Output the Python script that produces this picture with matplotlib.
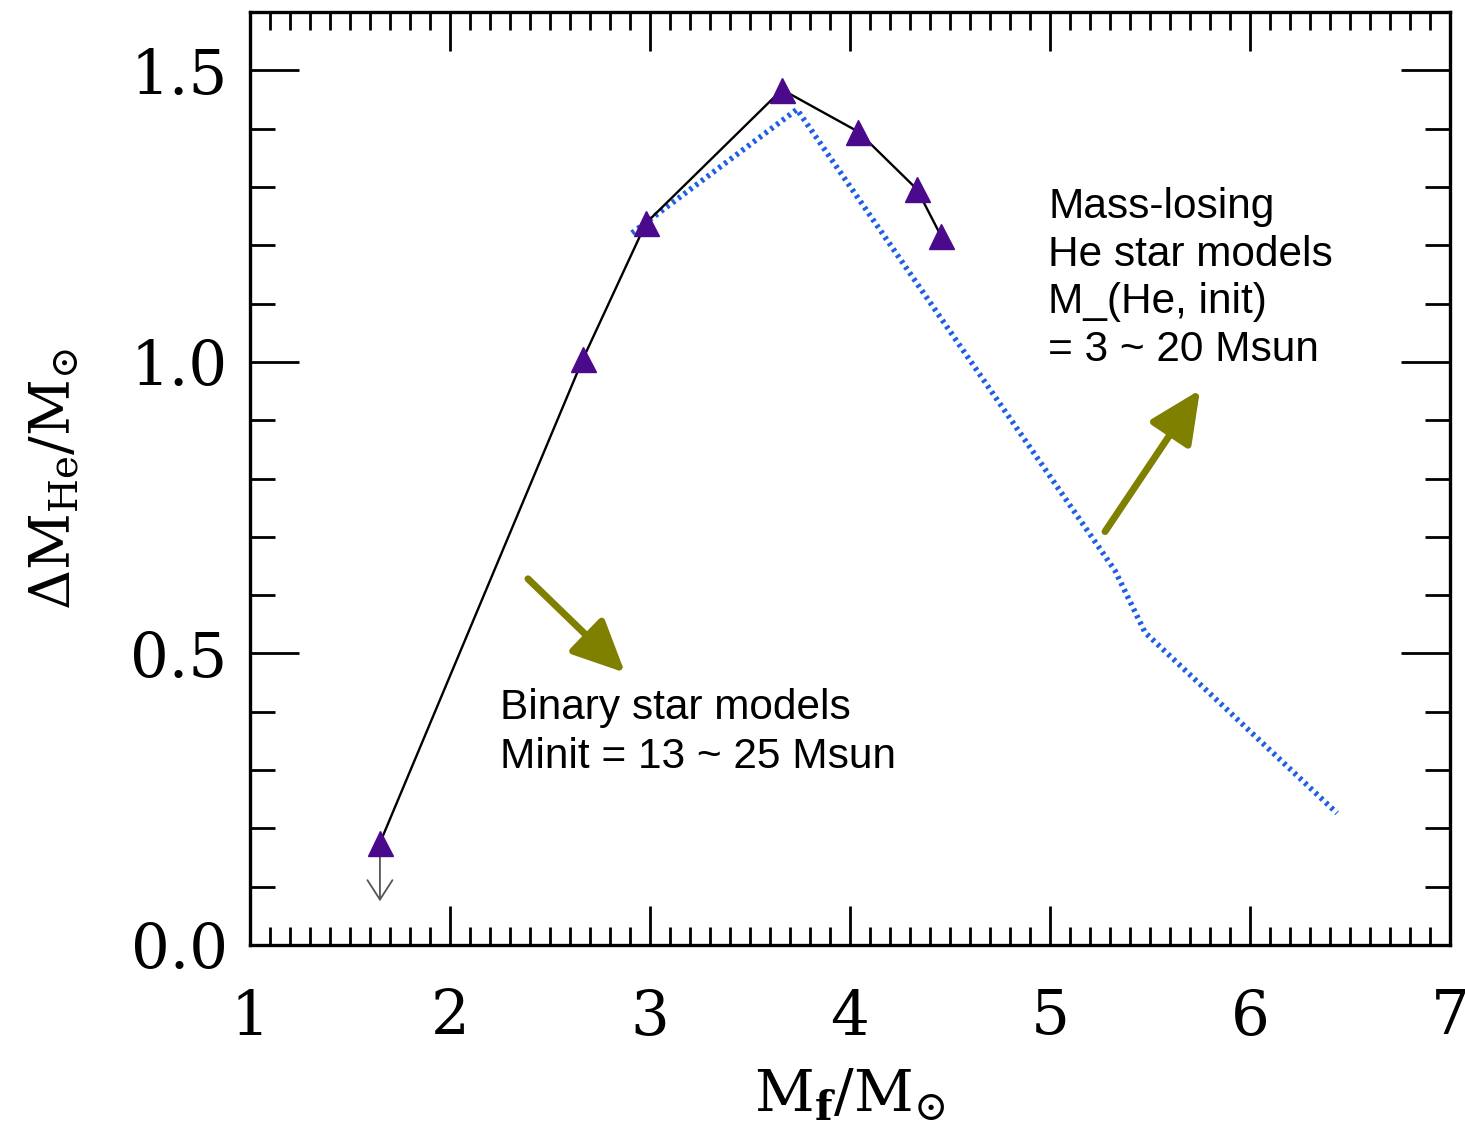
import matplotlib

matplotlib.use("Agg")
import matplotlib.pyplot as plt
from matplotlib.ticker import MultipleLocator

# binary star models (triangles + solid line)
mf_binary = [1.65, 2.665, 2.98, 3.66, 4.04, 4.335, 4.455]
dmhe_binary = [0.175, 1.005, 1.238, 1.467, 1.395, 1.296, 1.216]

# mass-losing He star models (dotted line)
mf_he = [2.91, 3.735, 5.325, 5.475, 6.435]
dmhe_he = [1.221, 1.433, 0.642, 0.536, 0.226]

# upper-limit arrow on the lowest-mass point
limit_x = 1.65
limit_top, limit_bottom = 0.175, 0.075

plt.rcParams["mathtext.fontset"] = "dejavuserif"

fig = plt.figure(figsize=(14.65, 11.25), dpi=100)
ax = fig.add_axes([0.1706, 0.16, 0.8192, 0.8293])

ax.plot(mf_he, dmhe_he, color="#1f5fe3", lw=4, ls=(0, (0.55, 0.75)), zorder=2)
ax.plot(mf_binary, dmhe_binary, color="black", lw=1.7, zorder=3)
ax.plot(mf_binary, dmhe_binary, ls="none", marker="^", ms=18, color="#4b0a8c", zorder=4)

ax.annotate("", xy=(limit_x, limit_bottom), xytext=(limit_x, limit_top),
            arrowprops=dict(arrowstyle="->,head_length=0.7,head_width=0.45",
                            mutation_scale=20, color="#555555", lw=1.3,
                            shrinkA=0, shrinkB=0))

olive = "#808000"
ax.annotate("", xy=(2.875, 0.467), xytext=(2.39, 0.628),
            arrowprops=dict(arrowstyle="-|>,head_length=1.6,head_width=0.75",
                            mutation_scale=20, color=olive, lw=5,
                            shrinkA=0, shrinkB=0))
ax.annotate("", xy=(5.75, 0.952), xytext=(5.275, 0.709),
            arrowprops=dict(arrowstyle="-|>,head_length=1.6,head_width=0.75",
                            mutation_scale=20, color=olive, lw=5,
                            shrinkA=0, shrinkB=0))

ax.text(2.25, 0.365, "Binary star models\nMinit = 13 ~ 25 Msun", fontsize=30.5,
        family="Liberation Sans", va="center", ha="left", linespacing=1.28)
ax.text(4.99, 1.143, "Mass-losing\nHe star models\nM_(He, init)\n= 3 ~ 20 Msun",
        fontsize=30.5, family="Liberation Sans", va="center", ha="left", linespacing=1.25)

ax.set_xlim(1, 7)
ax.set_ylim(0, 1.6)
ax.xaxis.set_major_locator(MultipleLocator(1))
ax.xaxis.set_minor_locator(MultipleLocator(0.1))
ax.yaxis.set_major_locator(MultipleLocator(0.5))
ax.yaxis.set_minor_locator(MultipleLocator(0.1))
ax.yaxis.set_major_formatter(lambda v, p: f"{v:.1f}")
ax.tick_params(which="both", direction="in", top=True, right=True, width=2,
               labelsize=44, labelfontfamily="DejaVu Serif")
ax.tick_params(axis="x", which="major", length=28, pad=30)
ax.tick_params(axis="x", which="minor", length=13)
ax.tick_params(axis="y", which="major", length=35, pad=16)
ax.tick_params(axis="y", which="minor", length=18)
for s in ax.spines.values():
    s.set_linewidth(2.4)

ax.set_xlabel(r"$\mathrm{M}_{\mathbf{f}}/\mathrm{M}_{\odot}$", fontsize=42, labelpad=14)
ax.set_ylabel(r"$\Delta\mathrm{M}_{\mathrm{He}}/\mathrm{M}_{\odot}$", fontsize=40, labelpad=34)

fig.savefig("out.png", dpi=100)
